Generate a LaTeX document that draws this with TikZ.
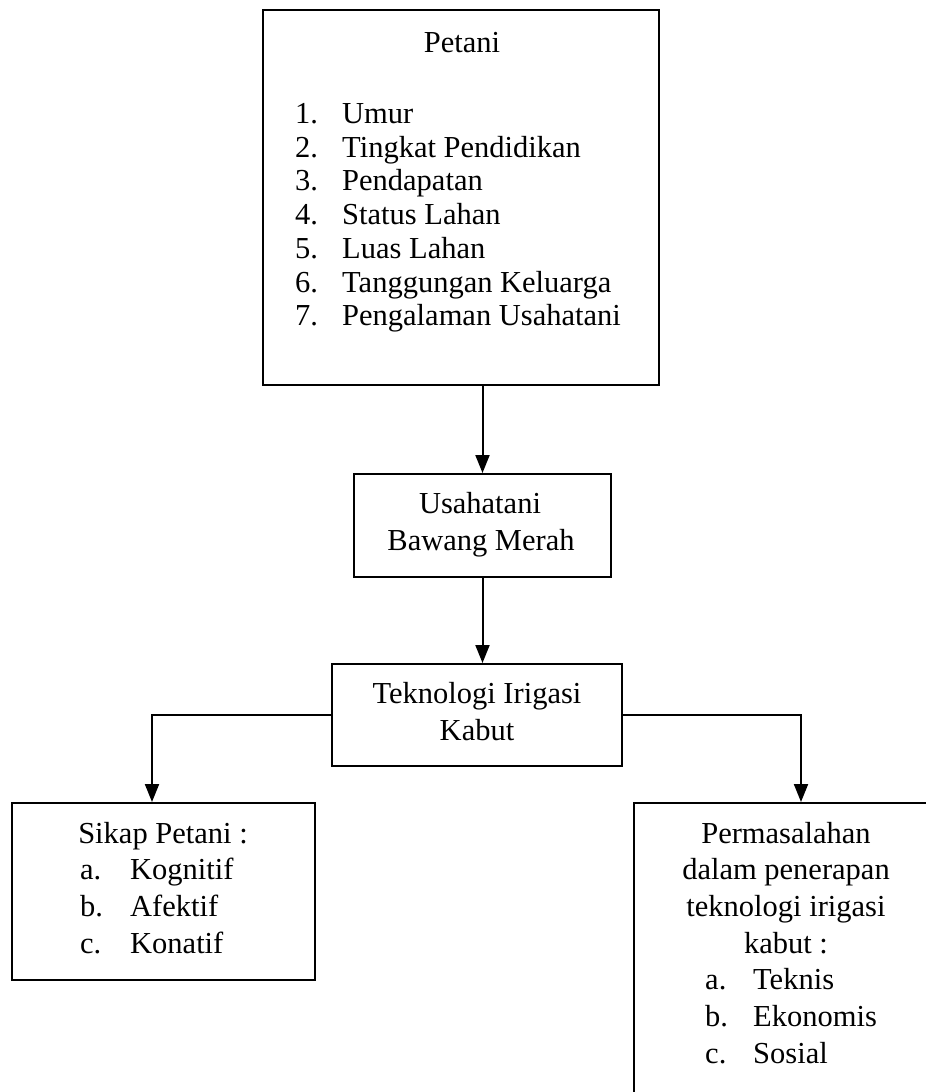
\documentclass[tikz,border=0pt]{standalone}
\usepackage{fontspec}
\setmainfont{Liberation Serif}
\usetikzlibrary{arrows.meta}

\def\barisAtas{33.7}
\def\barisBawah{36.8}

\tikzset{
  kotak/.style={draw, line width=2pt, inner sep=0pt},
  teks/.style={inner sep=0pt, anchor=base, font=\fontsize{30.5}{33.7}\selectfont},
  butir/.style={teks, anchor=base west},
  panah/.style={-{Triangle[width=14pt,length=18pt]}, line width=2pt}
}

\begin{document}
\begin{tikzpicture}[x=1pt, y=-1pt]
        \path[use as bounding box, clip] (0,0) rectangle (926,1092);
        \node[kotak, minimum width=396pt, minimum height=375pt] (petani) at (461,197.5) {};
        \node[kotak, minimum width=257pt, minimum height=103pt] (usaha) at (482.5,525.5) {};
        \node[kotak, minimum width=290pt, minimum height=102pt] (tekno) at (477,715) {};
        \node[kotak, minimum width=303pt, minimum height=177pt] (sikap) at (163.5,891.5) {};
        \node[kotak, minimum width=334pt, minimum height=340pt] (masalah) at (801,973) {};

        \node[teks] (judulPetani) at (462,52) {Petani};
        \foreach \i/\isi in {1/Umur, 2/Tingkat Pendidikan, 3/Pendapatan, 4/Status Lahan,
            5/Luas Lahan, 6/Tanggungan Keluarga, 7/Pengalaman Usahatani} {
            \node[butir] (no\i) at (295, {123.5+\barisAtas*(\i-1)}) {\i.};
            \node[butir] (isi\i) at (342, {123.5+\barisAtas*(\i-1)}) {\isi};
        }

        \node[teks] (usaha1) at (480,513) {Usahatani};
        \node[teks] (usaha2) at (481,550) {Bawang Merah};

        \node[teks] (tekno1) at (477,703) {Teknologi Irigasi};
        \node[teks] (tekno2) at (477,740) {Kabut};

        \node[teks] (judulSikap) at (163,843) {Sikap Petani :};
        \foreach \h/\isi [count=\k] in {a/Kognitif, b/Afektif, c/Konatif} {
            \node[butir] (sh\k) at (80, {843+\barisBawah*\k}) {\h.};
            \node[butir] (si\k) at (130, {843+\barisBawah*\k}) {\isi};
        }

        \foreach \isi [count=\k from 0] in {Permasalahan, dalam penerapan, teknologi irigasi, kabut :} {
            \node[teks] (judulMasalah\k) at (786, {843+\barisBawah*\k}) {\isi};
        }
        \foreach \h/\isi [count=\k] in {a/Teknis, b/Ekonomis, c/Sosial} {
            \node[butir] (mh\k) at (705, {953+\barisBawah*\k}) {\h.};
            \node[butir] (mi\k) at (753, {953+\barisBawah*\k}) {\isi};
        }

        \draw[panah] (petani.south -| usaha.north) -- (usaha.north);
        \draw[panah] (usaha.south) -- (usaha.south |- tekno.north);
        \draw[panah] (tekno.west) -| ([xshift=-11.5pt]sikap.north);
        \draw[panah] (tekno.east) -| (masalah.north);
      \end{tikzpicture}
\end{document}
